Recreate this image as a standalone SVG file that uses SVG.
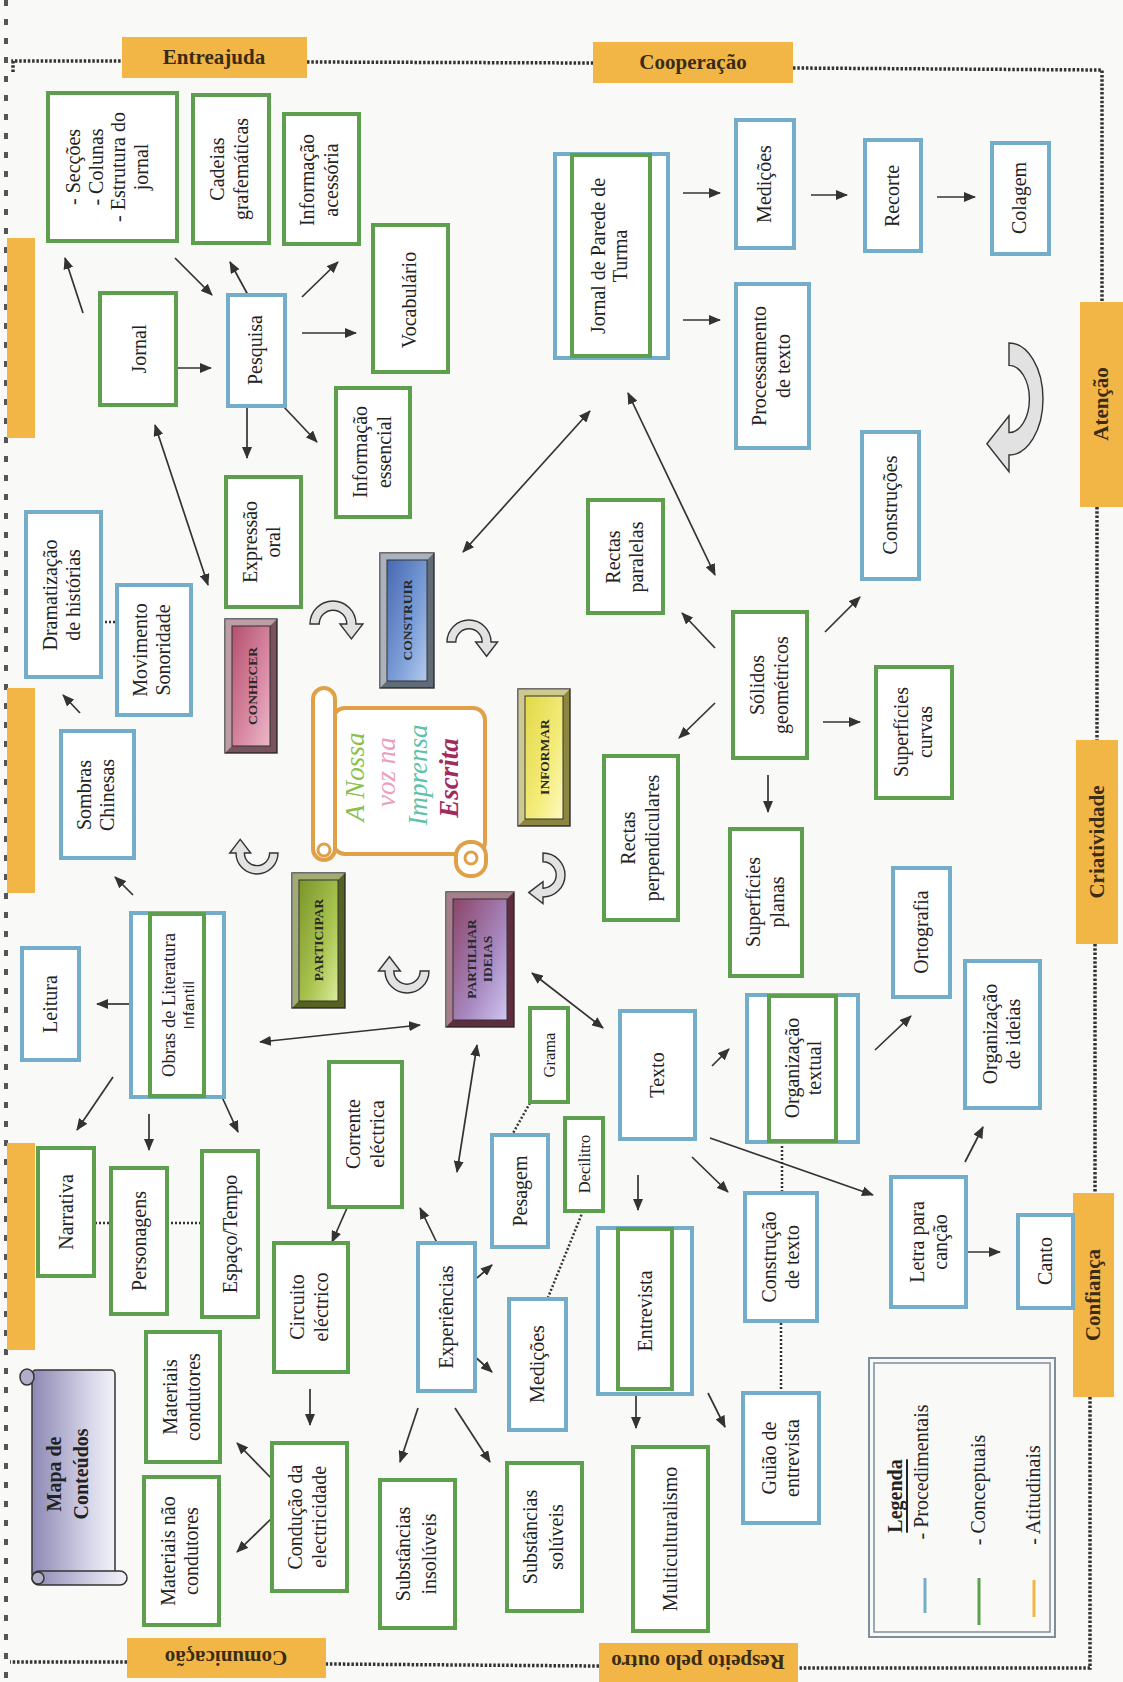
<svg xmlns="http://www.w3.org/2000/svg" width="1123" height="1682" viewBox="0 0 1123 1682">
<defs>
<style>
.b{fill:#fff;stroke:#74adc9;stroke-width:4}
.g{fill:#fff;stroke:#5e9f4d;stroke-width:4}
.gi{fill:none;stroke:#5e9f4d;stroke-width:4}
.t{font-family:"Liberation Serif","Times New Roman",serif;font-size:20px;fill:#222;text-anchor:middle;dominant-baseline:central}
.ts{font-size:16.5px}
.tab{fill:#f2b647}
.tabt{font-family:"Liberation Serif","Times New Roman",serif;font-weight:bold;font-size:21px;fill:#3a2c14;text-anchor:middle;dominant-baseline:central}
.bt{font-family:"Liberation Serif","Times New Roman",serif;font-weight:bold;font-size:13.5px;fill:#2a2a2a;text-anchor:middle;dominant-baseline:central}
.frame{stroke:#333;stroke-width:1.4}
.inner{stroke:#333;stroke-width:1}
.hl{fill:#fff;fill-opacity:0.35}
.sh{fill:#000;fill-opacity:0.22}
.bev{stroke:#333;stroke-width:1;fill:none}
.c{stroke:#333;stroke-width:1.7;fill:none;marker-end:url(#ah)}
.d{marker-start:url(#ah)}
.dot{stroke:#333;stroke-width:2.5;stroke-dasharray:2 2;fill:none}
.border{stroke:#333;stroke-width:3.5;stroke-dasharray:2.5 1.8;fill:none}
.ca{fill:#e2e2e2;stroke:#333;stroke-width:1.4}
.title{font-family:"Liberation Serif","Times New Roman",serif;font-style:italic;font-size:27px;text-anchor:middle;dominant-baseline:central}
</style>
<marker id="ah" markerUnits="userSpaceOnUse" markerWidth="12" markerHeight="10" refX="11" refY="5" orient="auto-start-reverse" viewBox="0 0 12 10"><path d="M0,0 L12,5 L0,10 z" fill="#333"/></marker>
<path id="carrow" d="M -20 0 A 20 20 0 0 1 20 0 L 26 0 L 16 13 L 6 0 L 12 0 A 12 12 0 0 0 -12 0 Z" class="ca" vector-effect="non-scaling-stroke"/>
<linearGradient id="gConh" x1="0" y1="0" x2="1" y2="1"><stop offset="0" stop-color="#b4506e"/><stop offset="0.6" stop-color="#d98aa4"/><stop offset="1" stop-color="#eab8c8"/></linearGradient>
<linearGradient id="gCons" x1="0" y1="0" x2="1" y2="1"><stop offset="0" stop-color="#4668b0"/><stop offset="0.6" stop-color="#7d9fd8"/><stop offset="1" stop-color="#b4caec"/></linearGradient>
<linearGradient id="gInf" x1="0" y1="0" x2="1" y2="1"><stop offset="0" stop-color="#e2d848"/><stop offset="0.6" stop-color="#f3ec7a"/><stop offset="1" stop-color="#fffac0"/></linearGradient>
<linearGradient id="gPart" x1="0" y1="0" x2="1" y2="1"><stop offset="0" stop-color="#7a962a"/><stop offset="0.6" stop-color="#aac450"/><stop offset="1" stop-color="#dcec9c"/></linearGradient>
<linearGradient id="gPid" x1="0" y1="0" x2="1" y2="1"><stop offset="0" stop-color="#8a4468"/><stop offset="0.6" stop-color="#a888c0"/><stop offset="1" stop-color="#cfc6f0"/></linearGradient>
<linearGradient id="gMapa" x1="0" y1="0" x2="1" y2="0"><stop offset="0" stop-color="#8c88b4"/><stop offset="0.7" stop-color="#d8d6ea"/><stop offset="1" stop-color="#f2f2f8"/></linearGradient>
</defs>

<rect x="0" y="0" width="1123" height="1682" fill="#f9f9f7"/>
<!-- binding -->
<line x1="6" y1="0" x2="6" y2="1682" stroke="#555" stroke-width="4" stroke-dasharray="6 13"/>

<!-- dotted frame -->
<g id="frame">
<path class="border" d="M13 72 L13 61 L122 61"/>
<path class="border" d="M307 62 L593 63"/>
<path class="border" d="M793 68 L1102 70 L1102 302"/>
<path class="border" d="M1097 507 L1097 740"/>
<path class="border" d="M1095 944 L1095 1193"/>
<path class="border" d="M1090 1397 L1090 1668 L798 1668"/>
<path class="border" d="M599 1666 L326 1664"/>
<path class="border" d="M127 1662 L10 1662"/>
</g>

<!-- orange tabs -->
<g id="tab-entreajuda"><rect class="tab" x="122" y="37" width="185" height="41"/><text class="tabt" x="214" y="57">Entreajuda</text></g>
<g id="tab-cooperacao"><rect class="tab" x="593" y="42" width="200" height="41"/><text class="tabt" x="693" y="62">Cooperação</text></g>
<g id="tab-atencao"><rect class="tab" x="1080" y="302" width="43" height="205"/><text class="tabt" transform="translate(1101,404) rotate(-90)">Atenção</text></g>
<g id="tab-criatividade"><rect class="tab" x="1076" y="740" width="42" height="204"/><text class="tabt" transform="translate(1097,842) rotate(-90)">Criatividade</text></g>
<g id="tab-confianca"><rect class="tab" x="1073" y="1193" width="41" height="204"/><text class="tabt" transform="translate(1093,1295) rotate(-90)">Confiança</text></g>
<g id="tab-respeito"><rect class="tab" x="599" y="1643" width="199" height="39"/><text class="tabt" transform="translate(698,1662) rotate(180)">Respeito pelo outro</text></g>
<g id="tab-comunicacao"><rect class="tab" x="127" y="1638" width="199" height="40"/><text class="tabt" transform="translate(226,1658) rotate(180)">Comunicação</text></g>
<g id="tab-left1"><rect class="tab" x="7" y="238" width="28" height="200"/></g>
<g id="tab-left2"><rect class="tab" x="7" y="688" width="28" height="205"/></g>
<g id="tab-left3"><rect class="tab" x="7" y="1143" width="28" height="207"/></g>

<!-- connectors -->
<g id="connectors">
<line class="c" x1="83" y1="313" x2="65" y2="258"/>
<line class="c" x1="175" y1="258" x2="212" y2="295"/>
<line class="c" x1="248" y1="295" x2="230" y2="262"/>
<line class="c" x1="302" y1="297" x2="338" y2="262"/>
<line class="c" x1="302" y1="333" x2="356" y2="333"/>
<line class="c" x1="175" y1="368" x2="211" y2="368"/>
<line class="c" x1="247" y1="406" x2="247" y2="458"/>
<line class="c" x1="283" y1="406" x2="317" y2="442"/>
<line class="c d" x1="155" y1="425" x2="208" y2="585"/>
<line class="c d" x1="590" y1="411" x2="463" y2="552"/>
<line class="c d" x1="628" y1="393" x2="715" y2="575"/>
<line class="c" x1="683" y1="193" x2="720" y2="193"/>
<line class="c" x1="683" y1="320" x2="720" y2="320"/>
<line class="c" x1="811" y1="195" x2="847" y2="195"/>
<line class="c" x1="937" y1="197" x2="975" y2="197"/>
<line class="c" x1="715" y1="648" x2="682" y2="613"/>
<line class="c" x1="715" y1="703" x2="679" y2="738"/>
<line class="c" x1="825" y1="632" x2="860" y2="597"/>
<line class="c" x1="823" y1="722" x2="860" y2="722"/>
<line class="c" x1="768" y1="775" x2="768" y2="812"/>
<line class="c" x1="80" y1="713" x2="63" y2="695"/>
<line class="c" x1="133" y1="895" x2="115" y2="877"/>
<line class="c" x1="129" y1="1004" x2="97" y2="1004"/>
<line class="c d" x1="260" y1="1042" x2="420" y2="1025"/>
<line class="c" x1="113" y1="1077" x2="77" y2="1130"/>
<line class="c" x1="149" y1="1114" x2="149" y2="1150"/>
<line class="c" x1="222" y1="1097" x2="238" y2="1132"/>
<line class="c" x1="347" y1="1208" x2="332" y2="1242"/>
<line class="c d" x1="532" y1="973" x2="603" y2="1028"/>
<line class="c d" x1="477" y1="1045" x2="457" y2="1172"/>
<line class="c" x1="437" y1="1243" x2="420" y2="1208"/>
<line class="c" x1="638" y1="1175" x2="638" y2="1210"/>
<line class="c" x1="712" y1="1066" x2="729" y2="1049"/>
<line class="c" x1="692" y1="1157" x2="728" y2="1192"/>
<line class="c" x1="710" y1="1138" x2="873" y2="1195"/>
<line class="c" x1="875" y1="1050" x2="911" y2="1016"/>
<line class="c" x1="965" y1="1162" x2="983" y2="1127"/>
<line class="c" x1="966" y1="1252" x2="1000" y2="1252"/>
<line class="c" x1="310" y1="1389" x2="310" y2="1425"/>
<line class="c" x1="273" y1="1480" x2="237" y2="1443"/>
<line class="c" x1="273" y1="1517" x2="237" y2="1552"/>
<line class="c" x1="477" y1="1278" x2="492" y2="1265"/>
<line class="c" x1="473" y1="1355" x2="492" y2="1372"/>
<line class="c" x1="418" y1="1408" x2="400" y2="1462"/>
<line class="c" x1="455" y1="1408" x2="490" y2="1462"/>
<line class="c" x1="636" y1="1394" x2="636" y2="1428"/>
<line class="c" x1="708" y1="1393" x2="725" y2="1427"/>
<line class="dot" x1="101" y1="622" x2="117" y2="622"/>
<line class="dot" x1="95" y1="1223" x2="111" y2="1223"/>
<line class="dot" x1="167" y1="1223" x2="202" y2="1223"/>
<line class="dot" x1="530" y1="1103" x2="512" y2="1135"/>
<line class="dot" x1="583" y1="1211" x2="547" y2="1300"/>
<line class="dot" x1="782" y1="1142" x2="782" y2="1193"/>
<line class="dot" x1="781" y1="1323" x2="781" y2="1393"/>
</g>

<!-- curved block arrows -->
<g id="curved-arrows">
<use href="#carrow" transform="translate(333,624) scale(1.15)"/>
<use href="#carrow" transform="translate(469,642) scale(1.1)"/>
<use href="#carrow" transform="translate(543,875) rotate(90) scale(1.1)"/>
<use href="#carrow" transform="translate(407,971) rotate(180) scale(1.1)"/>
<use href="#carrow" transform="translate(257,853) rotate(180) scale(1.05)"/>
<use href="#carrow" transform="translate(1009,399) scale(1.7,2.8) rotate(90)"/>
</g>

<!-- title scroll -->
<g id="n-titulo">
<rect x="333" y="708" width="152" height="146" rx="12" fill="#fff" stroke="#e0a048" stroke-width="4"/>
<rect x="313" y="688" width="22" height="172" rx="11" fill="#fff" stroke="#e0a048" stroke-width="4"/>
<circle cx="324" cy="850" r="6" fill="none" stroke="#e0a048" stroke-width="3"/>
<rect x="456" y="842" width="30" height="34" rx="14" fill="#fff" stroke="#e0a048" stroke-width="4"/>
<circle cx="471" cy="858" r="6" fill="none" stroke="#e0a048" stroke-width="3"/>
<text class="title" transform="translate(355,777) rotate(-90)" fill="#8cc04c">A Nossa</text>
<text class="title" transform="translate(386,772) rotate(-90)" fill="#eaa0bc">voz na</text>
<text class="title" transform="translate(418,775) rotate(-90)" fill="#5ec2aa">Imprensa</text>
<text class="title" transform="translate(449,778) rotate(-90)" fill="#a22a5c" font-weight="bold">Escrita</text>
</g>

<!-- buttons -->
<g id="n-conhecer">
<rect class="frame" x="225" y="619" width="52" height="134" fill="#9a6a78"/>
<polygon class="hl" points="225,619 277,619 270,626 232,626"/><polygon class="hl" points="225,619 232,626 232,746 225,753"/>
<polygon class="sh" points="225,753 232,746 270,746 277,753"/><polygon class="sh" points="277,619 277,753 270,746 270,626"/>
<rect class="inner" x="232" y="626" width="38" height="120" fill="url(#gConh)"/>
<text class="bt" transform="translate(252,686) rotate(-90)">CONHECER</text>
</g>
<g id="n-construir">
<rect class="frame" x="380" y="553" width="54" height="135" fill="#7d8a9a"/>
<polygon class="hl" points="380,553 434,553 427,560 387,560"/><polygon class="hl" points="380,553 387,560 387,681 380,688"/>
<polygon class="sh" points="380,688 387,681 427,681 434,688"/><polygon class="sh" points="434,553 434,688 427,681 427,560"/>
<rect class="inner" x="387" y="560" width="40" height="121" fill="url(#gCons)"/>
<text class="bt" transform="translate(407,620) rotate(-90)">CONSTRUIR</text>
</g>
<g id="n-informar">
<rect class="frame" x="518" y="689" width="52" height="137" fill="#b4ac52"/>
<polygon class="hl" points="518,689 570,689 563,696 525,696"/><polygon class="hl" points="518,689 525,696 525,819 518,826"/>
<polygon class="sh" points="518,826 525,819 563,819 570,826"/><polygon class="sh" points="570,689 570,826 563,819 563,696"/>
<rect class="inner" x="525" y="696" width="38" height="123" fill="url(#gInf)"/>
<text class="bt" transform="translate(544,757) rotate(-90)">INFORMAR</text>
</g>
<g id="n-participar">
<rect class="frame" x="292" y="873" width="53" height="135" fill="#6f7e2c"/>
<polygon class="hl" points="292,873 345,873 338,880 299,880"/><polygon class="hl" points="292,873 299,880 299,1001 292,1008"/>
<polygon class="sh" points="292,1008 299,1001 338,1001 345,1008"/><polygon class="sh" points="345,873 345,1008 338,1001 338,880"/>
<rect class="inner" x="299" y="880" width="39" height="121" fill="url(#gPart)"/>
<text class="bt" transform="translate(318,940) rotate(-90)">PARTICIPAR</text>
</g>
<g id="n-partilhar">
<rect class="frame" x="446" y="892" width="68" height="135" fill="#7a3a52"/>
<polygon class="hl" points="446,892 514,892 507,899 453,899"/><polygon class="hl" points="446,892 453,899 453,1020 446,1027"/>
<polygon class="sh" points="446,1027 453,1020 507,1020 514,1027"/><polygon class="sh" points="514,892 514,1027 507,1020 507,899"/>
<rect class="inner" x="453" y="899" width="54" height="121" fill="url(#gPid)"/>
<text class="bt" transform="translate(479,959) rotate(-90)"><tspan x="0" y="-8">PARTILHAR</tspan><tspan x="0" y="8">IDEIAS</tspan></text>
</g>

<!-- Mapa de Conteúdos scroll -->
<g id="n-mapa">
<rect x="32" y="1370" width="83" height="208" rx="4" fill="url(#gMapa)" stroke="#333" stroke-width="1.5"/>
<ellipse cx="27" cy="1377" rx="7" ry="8" fill="#b0aec8" stroke="#333" stroke-width="1.5"/>
<rect x="32" y="1571" width="95" height="14" rx="7" fill="url(#gMapa)" stroke="#333" stroke-width="1.5"/>
<circle cx="38" cy="1578" r="6" fill="#b0aec8" stroke="#333" stroke-width="1.5"/>
<text class="t" font-weight="bold" font-size="24" fill="#2a2a3a" transform="translate(67,1474) rotate(-90)"><tspan x="0" y="-13">Mapa de</tspan><tspan x="0" y="14">Conteúdos</tspan></text>
</g>

<!-- nodes -->
<g id="n-seccoes"><rect class="g" x="48" y="93" width="129" height="148"/><text class="t" transform="translate(107,167) rotate(-90)"><tspan x="0" y="-34">- Secções</tspan><tspan x="0" y="-11">- Colunas</tspan><tspan x="0" y="11">- Estrutura do</tspan><tspan x="0" y="34">jornal</tspan></text></g>
<g id="n-cadeias"><rect class="g" x="193" y="95" width="76" height="148"/><text class="t" transform="translate(229,169) rotate(-90)"><tspan x="0" y="-12">Cadeias</tspan><tspan x="0" y="12">grafemáticas</tspan></text></g>
<g id="n-infoacess"><rect class="g" x="284" y="114" width="75" height="130"/><text class="t" transform="translate(319,180) rotate(-90)"><tspan x="0" y="-12">Informação</tspan><tspan x="0" y="12">acessória</tspan></text></g>
<g id="n-jornal"><rect class="g" x="100" y="293" width="76" height="112"/><text class="t" transform="translate(139,349) rotate(-90)">Jornal</text></g>
<g id="n-pesquisa"><rect class="b" x="228" y="295" width="57" height="111"/><text class="t" transform="translate(255,350) rotate(-90)">Pesquisa</text></g>
<g id="n-vocabulario"><rect class="g" x="373" y="225" width="75" height="147"/><text class="t" transform="translate(409,300) rotate(-90)">Vocabulário</text></g>
<g id="n-infoess"><rect class="g" x="336" y="388" width="74" height="129"/><text class="t" transform="translate(372,452) rotate(-90)"><tspan x="0" y="-12">Informação</tspan><tspan x="0" y="12">essencial</tspan></text></g>
<g id="n-jornalparede"><rect class="b" x="555" y="154" width="113" height="204"/><rect class="gi" x="572" y="155" width="78" height="201"/><text class="t" transform="translate(609,256) rotate(-90)"><tspan x="0" y="-11">Jornal de Parede de</tspan><tspan x="0" y="11">Turma</tspan></text></g>
<g id="n-medicoes1"><rect class="b" x="736" y="120" width="58" height="128"/><text class="t" transform="translate(764,184) rotate(-90)">Medições</text></g>
<g id="n-processamento"><rect class="b" x="736" y="284" width="73" height="164"/><text class="t" transform="translate(771,366) rotate(-90)"><tspan x="0" y="-12">Processamento</tspan><tspan x="0" y="12">de texto</tspan></text></g>
<g id="n-recorte"><rect class="b" x="865" y="140" width="56" height="111"/><text class="t" transform="translate(892,196) rotate(-90)">Recorte</text></g>
<g id="n-colagem"><rect class="b" x="992" y="143" width="57" height="111"/><text class="t" transform="translate(1019,198) rotate(-90)">Colagem</text></g>
<g id="n-expressao"><rect class="g" x="226" y="477" width="75" height="130"/><text class="t" transform="translate(261,542) rotate(-90)"><tspan x="0" y="-11.5">Expressão</tspan><tspan x="0" y="11.5">oral</tspan></text></g>
<g id="n-dramatizacao"><rect class="b" x="26" y="512" width="75" height="165"/><text class="t" transform="translate(61,595) rotate(-90)"><tspan x="0" y="-11.5">Dramatização</tspan><tspan x="0" y="11.5">de histórias</tspan></text></g>
<g id="n-movimento"><rect class="b" x="117" y="585" width="74" height="130"/><text class="t" transform="translate(151,650) rotate(-90)"><tspan x="0" y="-11.5">Movimento</tspan><tspan x="0" y="11.5">Sonoridade</tspan></text></g>
<g id="n-sombras"><rect class="b" x="61" y="731" width="73" height="127"/><text class="t" transform="translate(95,795) rotate(-90)"><tspan x="0" y="-11.5">Sombras</tspan><tspan x="0" y="11.5">Chinesas</tspan></text></g>
<g id="n-rectaspar"><rect class="g" x="588" y="500" width="75" height="113"/><text class="t" transform="translate(624,557) rotate(-90)"><tspan x="0" y="-11.5">Rectas</tspan><tspan x="0" y="11.5">paralelas</tspan></text></g>
<g id="n-solidos"><rect class="g" x="733" y="612" width="74" height="146"/><text class="t" transform="translate(769,685) rotate(-90)"><tspan x="0" y="-12">Sólidos</tspan><tspan x="0" y="12">geométricos</tspan></text></g>
<g id="n-rectasperp"><rect class="g" x="604" y="756" width="74" height="164"/><text class="t" transform="translate(640,838) rotate(-90)"><tspan x="0" y="-12">Rectas</tspan><tspan x="0" y="12">perpendiculares</tspan></text></g>
<g id="n-construcoes"><rect class="b" x="862" y="432" width="57" height="147"/><text class="t" transform="translate(890,505) rotate(-90)">Construções</text></g>
<g id="n-supcurvas"><rect class="g" x="876" y="667" width="76" height="131"/><text class="t" transform="translate(913,732) rotate(-90)"><tspan x="0" y="-12">Superfícies</tspan><tspan x="0" y="12">curvas</tspan></text></g>
<g id="n-supplanas"><rect class="g" x="730" y="829" width="72" height="147"/><text class="t" transform="translate(765,902) rotate(-90)"><tspan x="0" y="-12">Superfícies</tspan><tspan x="0" y="12">planas</tspan></text></g>
<g id="n-leitura"><rect class="b" x="22" y="948" width="57" height="112"/><text class="t" transform="translate(50,1004) rotate(-90)">Leitura</text></g>
<g id="n-obras"><rect class="b" x="131" y="913" width="93" height="184"/><rect class="gi" x="150" y="914" width="54" height="182"/><text class="t" transform="translate(177,1005) rotate(-90)"><tspan x="0" y="-8" font-size="18.5">Obras de Literatura</tspan><tspan x="0" y="11" font-family="Liberation Sans, Arial, sans-serif" font-size="15" letter-spacing="0.6">Infantil</tspan></text></g>
<g id="n-narrativa"><rect class="g" x="38" y="1148" width="56" height="128"/><text class="t" transform="translate(66,1212) rotate(-90)">Narrativa</text></g>
<g id="n-personagens"><rect class="g" x="111" y="1168" width="56" height="146"/><text class="t" transform="translate(139,1241) rotate(-90)">Personagens</text></g>
<g id="n-espaco"><rect class="g" x="202" y="1151" width="56" height="166"/><text class="t" transform="translate(230,1234) rotate(-90)">Espaço/Tempo</text></g>
<g id="n-corrente"><rect class="g" x="329" y="1062" width="73" height="145"/><text class="t" transform="translate(365,1134) rotate(-90)"><tspan x="0" y="-12">Corrente</tspan><tspan x="0" y="12">eléctrica</tspan></text></g>
<g id="n-circuito"><rect class="g" x="274" y="1243" width="74" height="129"/><text class="t" transform="translate(309,1307) rotate(-90)"><tspan x="0" y="-12">Circuito</tspan><tspan x="0" y="12">eléctrico</tspan></text></g>
<g id="n-grama"><rect class="g" x="530" y="1008" width="38" height="94"/><text class="t ts" transform="translate(549,1055) rotate(-90)">Grama</text></g>
<g id="n-texto"><rect class="b" x="620" y="1011" width="75" height="128"/><text class="t" transform="translate(657,1075) rotate(-90)">Texto</text></g>
<g id="n-pesagem"><rect class="b" x="492" y="1135" width="56" height="112"/><text class="t" transform="translate(520,1191) rotate(-90)">Pesagem</text></g>
<g id="n-decilitro"><rect class="g" x="565" y="1118" width="38" height="93"/><text class="t ts" transform="translate(584,1164) rotate(-90)">Decilitro</text></g>
<g id="n-orgtextual"><rect class="b" x="747" y="995" width="111" height="147"/><rect class="gi" x="769" y="996" width="67" height="145"/><text class="t" transform="translate(803,1068) rotate(-90)"><tspan x="0" y="-11">Organização</tspan><tspan x="0" y="11">textual</tspan></text></g>
<g id="n-ortografia"><rect class="b" x="893" y="868" width="57" height="129"/><text class="t" transform="translate(921,932) rotate(-90)">Ortografia</text></g>
<g id="n-orgideias"><rect class="b" x="965" y="961" width="75" height="147"/><text class="t" transform="translate(1001,1034) rotate(-90)"><tspan x="0" y="-11.5">Organização</tspan><tspan x="0" y="11.5">de ideias</tspan></text></g>
<g id="n-letra"><rect class="b" x="891" y="1177" width="75" height="130"/><text class="t" transform="translate(928,1242) rotate(-90)"><tspan x="0" y="-11.5">Letra para</tspan><tspan x="0" y="11.5">canção</tspan></text></g>
<g id="n-construcao"><rect class="b" x="745" y="1193" width="72" height="128"/><text class="t" transform="translate(780,1257) rotate(-90)"><tspan x="0" y="-11.5">Construção</tspan><tspan x="0" y="11.5">de texto</tspan></text></g>
<g id="n-canto"><rect class="b" x="1018" y="1215" width="55" height="93"/><text class="t" transform="translate(1045,1261) rotate(-90)">Canto</text></g>
<g id="n-entrevista"><rect class="b" x="598" y="1228" width="94" height="166"/><rect class="gi" x="618" y="1229" width="54" height="160"/><text class="t" transform="translate(645,1311) rotate(-90)">Entrevista</text></g>
<g id="n-experiencias"><rect class="b" x="418" y="1243" width="57" height="148"/><text class="t" transform="translate(446,1317) rotate(-90)">Experiências</text></g>
<g id="n-medicoes2"><rect class="b" x="509" y="1299" width="57" height="131"/><text class="t" transform="translate(537,1364) rotate(-90)">Medições</text></g>
<g id="n-matcond"><rect class="g" x="146" y="1332" width="74" height="130"/><text class="t" transform="translate(181,1397) rotate(-90)"><tspan x="0" y="-11.5">Materiais</tspan><tspan x="0" y="11.5">condutores</tspan></text></g>
<g id="n-matnao"><rect class="g" x="144" y="1477" width="75" height="148"/><text class="t" transform="translate(179,1551) rotate(-90)"><tspan x="0" y="-11.5">Materiais não</tspan><tspan x="0" y="11.5">condutores</tspan></text></g>
<g id="n-conducao"><rect class="g" x="272" y="1443" width="75" height="148"/><text class="t" transform="translate(307,1517) rotate(-90)"><tspan x="0" y="-12">Condução da</tspan><tspan x="0" y="12">electricidade</tspan></text></g>
<g id="n-substins"><rect class="g" x="380" y="1480" width="75" height="148"/><text class="t" transform="translate(416,1554) rotate(-90)"><tspan x="0" y="-13">Substâncias</tspan><tspan x="0" y="13">insolúveis</tspan></text></g>
<g id="n-substsol"><rect class="g" x="507" y="1463" width="75" height="148"/><text class="t" transform="translate(543,1537) rotate(-90)"><tspan x="0" y="-13">Substâncias</tspan><tspan x="0" y="13">solúveis</tspan></text></g>
<g id="n-multi"><rect class="g" x="633" y="1447" width="75" height="184"/><text class="t" transform="translate(670,1539) rotate(-90)">Multiculturalismo</text></g>
<g id="n-guiao"><rect class="b" x="743" y="1393" width="76" height="130"/><text class="t" transform="translate(780,1458) rotate(-90)"><tspan x="0" y="-11.5">Guião de</tspan><tspan x="0" y="11.5">entrevista</tspan></text></g>

<!-- legend -->
<g id="legenda">
<rect x="869" y="1358" width="186" height="279" fill="none" stroke="#7f8e9c" stroke-width="2"/>
<rect x="874" y="1363" width="176" height="269" fill="none" stroke="#7f8e9c" stroke-width="1.5"/>
<text class="t" font-weight="bold" font-size="23" text-decoration="underline" transform="translate(895,1496) rotate(-90)">Legenda</text>
<text class="t" font-size="22" transform="translate(921,1472) rotate(-90)">- Procedimentais</text>
<line x1="925" y1="1578" x2="925" y2="1613" stroke="#74adc9" stroke-width="3"/>
<text class="t" font-size="22" transform="translate(978,1490) rotate(-90)">- Conceptuais</text>
<line x1="979" y1="1578" x2="979" y2="1625" stroke="#5e9f4d" stroke-width="3"/>
<text class="t" font-size="22" transform="translate(1033,1495) rotate(-90)">- Atitudinais</text>
<line x1="1034" y1="1580" x2="1034" y2="1617" stroke="#f2b647" stroke-width="3"/>
</g>
</svg>
